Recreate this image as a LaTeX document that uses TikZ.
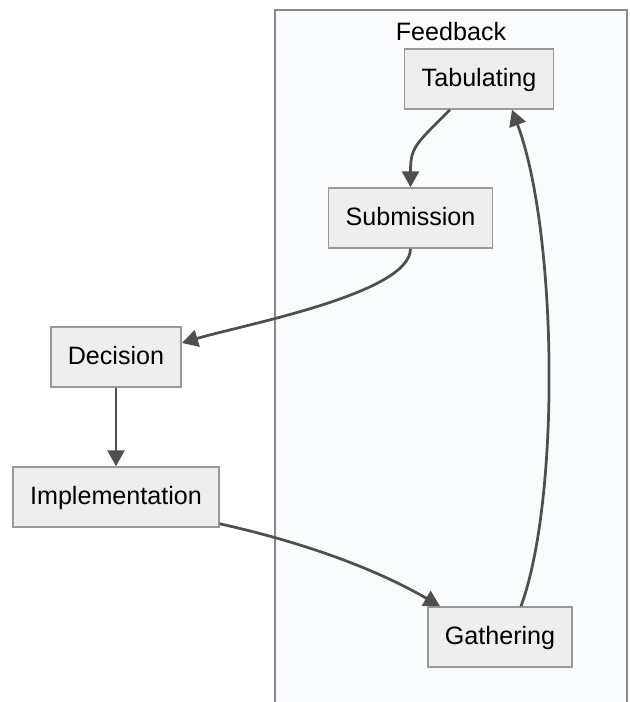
\documentclass[tikz,border=0pt]{standalone}
\usepackage{fontspec}
\setmainfont{Liberation Sans}
\usetikzlibrary{arrows.meta}
\definecolor{boxfill}{HTML}{EEEEEE}
\definecolor{boxline}{HTML}{999999}
\definecolor{clusterfill}{HTML}{FAFBFD}
\definecolor{clusterline}{HTML}{888888}
\definecolor{edgecol}{HTML}{4F4F4F}
\tikzset{
  box/.style={draw=boxline, fill=boxfill, line width=0.3mm, minimum height=12mm,
    inner xsep=3.4mm, text height=1.05em, text depth=0.2em,
    font=\fontsize{14.3}{16}\selectfont},
  edge/.style={draw=edgecol, line width=0.55mm,
    -{Triangle[length=3.2mm,width=3.4mm]}}
}
\begin{document}
\begin{tikzpicture}[x=0.2mm,y=-0.2mm]
    \useasboundingbox (0,0) rectangle (630,702);

    % Cluster
    \draw[clusterline, fill=clusterfill, line width=0.3mm] (275,10) rectangle (627,730);
    \node[font=\fontsize{14.3}{16}\selectfont] (fblabel) at (451,32) {Feedback};

    % Nodes
    \node[box] (tab) at (479,79) {Tabulating};
    \node[box] (sub) at (410.5,218) {Submission};
    \node[box] (dec) at (116,357) {Decision};
    \node[box] (imp) at (116,497) {Implementation};
    \node[box] (gat) at (500,637) {Gathering};

    % Connectors
    \draw[edge] ([xshift=-5.8mm]tab.south) .. controls +(-35,35) and +(0,-40) .. (sub.north);
    \draw[edge] (sub.south) .. controls +(0,45) and +(60,-18) .. ([yshift=2.8mm]dec.east);
    \draw[edge] (dec.south) -- (imp.north);
    \draw[edge] ([yshift=0.8mm]imp.south east) .. controls +(90,20) and +(-60,-35) .. ([xshift=-12mm]gat.north);
    \draw[edge] ([xshift=4.2mm]gat.north) .. controls +(40,-110) and +(45,120) .. ([xshift=6.6mm]tab.south);
\end{tikzpicture}
\end{document}
